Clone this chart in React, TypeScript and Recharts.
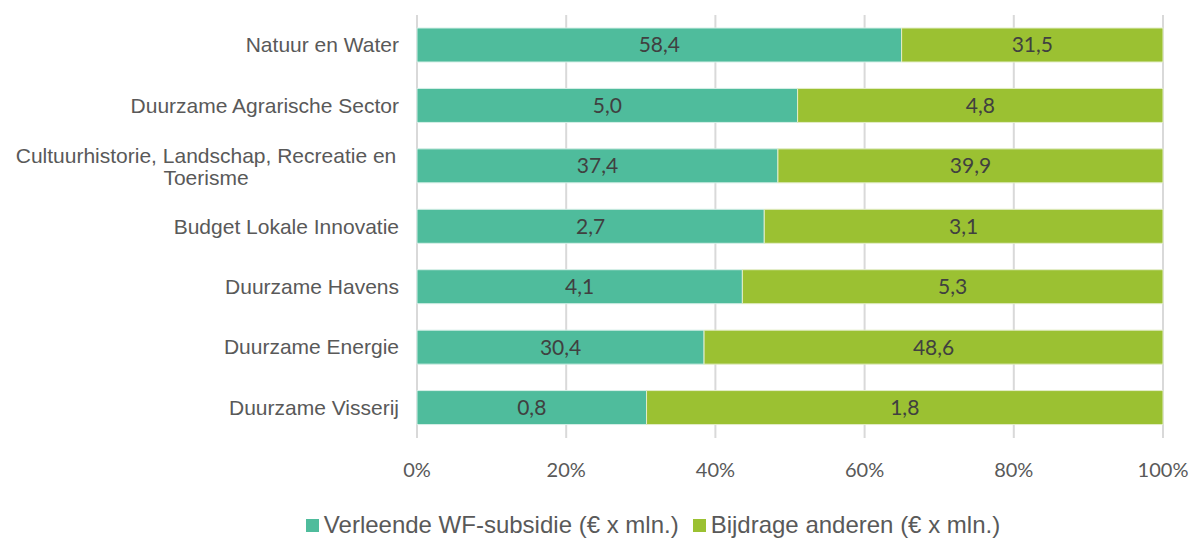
import { BarChart, Bar, XAxis, YAxis, CartesianGrid, Legend, LabelList } from "recharts";

const categories = [
  "Natuur en Water",
  "Duurzame Agrarische Sector",
  "Cultuurhistorie, Landschap, Recreatie en Toerisme",
  "Budget Lokale Innovatie",
  "Duurzame Havens",
  "Duurzame Energie",
  "Duurzame Visserij",
];
const subsidie = [58.4, 5.0, 37.4, 2.7, 4.1, 30.4, 0.8];
const anderen = [31.5, 4.8, 39.9, 3.1, 5.3, 48.6, 1.8];
const xTicks = [0, 0.2, 0.4, 0.6, 0.8, 1];
const seriesNames = ["Verleende WF-subsidie (€ x mln.)", "Bijdrage anderen (€ x mln.)"];

const data = categories.map((name, i) => ({
  name,
  subsidie: subsidie[i],
  anderen: anderen[i],
}));

const TEAL = "#4FBC9C";
const GREEN = "#9BC132";
const labelFont = "Lato, 'Open Sans', sans-serif";
const catFont = "'Liberation Sans', Arial, sans-serif";

const fmt = (v: any) => Number(v).toFixed(1).replace(".", ",");

// category labels: right-aligned, the long one wraps into two centered lines
const CategoryTick = (props: any) => {
  const { x, y, payload } = props;
  const text: string = payload.value;
  if (text.length > 40) {
    const cut = text.lastIndexOf(" ");
    const lines = [text.slice(0, cut), text.slice(cut + 1)];
    const cx = x - 10 - 193;
    return (
      <text x={cx} y={y} textAnchor="middle" fill="#595959" fontSize={21} fontFamily={catFont}>
        {lines.map((l, i) => (
          <tspan key={i} x={cx} dy={i === 0 ? -3 : 22}>
            {l}
          </tspan>
        ))}
      </text>
    );
  }
  return (
    <text x={x - 10} y={y} dy={7} textAnchor="end" fill="#595959" fontSize={21} fontFamily={catFont}>
      {text}
    </text>
  );
};

const LegendContent = () => {
  const colors = [TEAL, GREEN];
  return (
    <div
      style={{
        height: 60,
        boxSizing: "border-box",
        paddingTop: 34,
        paddingLeft: 143,
        display: "flex",
        justifyContent: "center",
        alignItems: "center",
        fontFamily: catFont,
        fontSize: 24,
        color: "#595959",
        lineHeight: "26px",
      }}
    >
      {seriesNames.map((n, i) => (
        <span key={n} style={{ display: "flex", alignItems: "center", marginLeft: i === 0 ? 0 : 14 }}>
          <span style={{ width: 13, height: 13, background: colors[i], marginRight: 5, display: "inline-block" }} />
          {n}
        </span>
      ))}
    </div>
  );
};

export default function App() {
  return (
    <div style={{ position: "absolute", left: 0, top: 0, background: "#fff" }}>
      <BarChart
        width={1192}
        height={538}
        data={data}
        layout="vertical"
        stackOffset="expand"
        barSize={34}
        margin={{ top: 15, right: 29, bottom: 0, left: 0 }}
      >
        <CartesianGrid horizontal={false} stroke="#D9D9D9" strokeWidth={2} />
        <XAxis
          type="number"
          domain={[0, 1]}
          ticks={xTicks}
          tickFormatter={(v: number) => `${Math.round(v * 100)}%`}
          axisLine={false}
          tickLine={false}
          tickMargin={19}
          height={40}
          tick={{ fill: "#595959", fontSize: 20, fontFamily: labelFont }}
        />
        <YAxis
          type="category"
          dataKey="name"
          width={417}
          axisLine={false}
          tickLine={false}
          tick={<CategoryTick />}
        />
        <Legend verticalAlign="bottom" height={60} content={<LegendContent />} />
        <Bar
          dataKey="subsidie"
          name={seriesNames[0]}
          stackId="a"
          fill={TEAL}
          stroke="#D6EFE7"
          strokeWidth={1}
          isAnimationActive={false}
        >
          <LabelList
            dataKey="subsidie"
            position="center"
            formatter={fmt}
            style={{ fill: "#404040", fontSize: 21, fontFamily: labelFont }}
          />
        </Bar>
        <Bar
          dataKey="anderen"
          name={seriesNames[1]}
          stackId="a"
          fill={GREEN}
          stroke="#E3EDC8"
          strokeWidth={1}
          isAnimationActive={false}
        >
          <LabelList
            dataKey="anderen"
            position="center"
            formatter={fmt}
            style={{ fill: "#404040", fontSize: 21, fontFamily: labelFont }}
          />
        </Bar>
      </BarChart>
    </div>
  );
}
